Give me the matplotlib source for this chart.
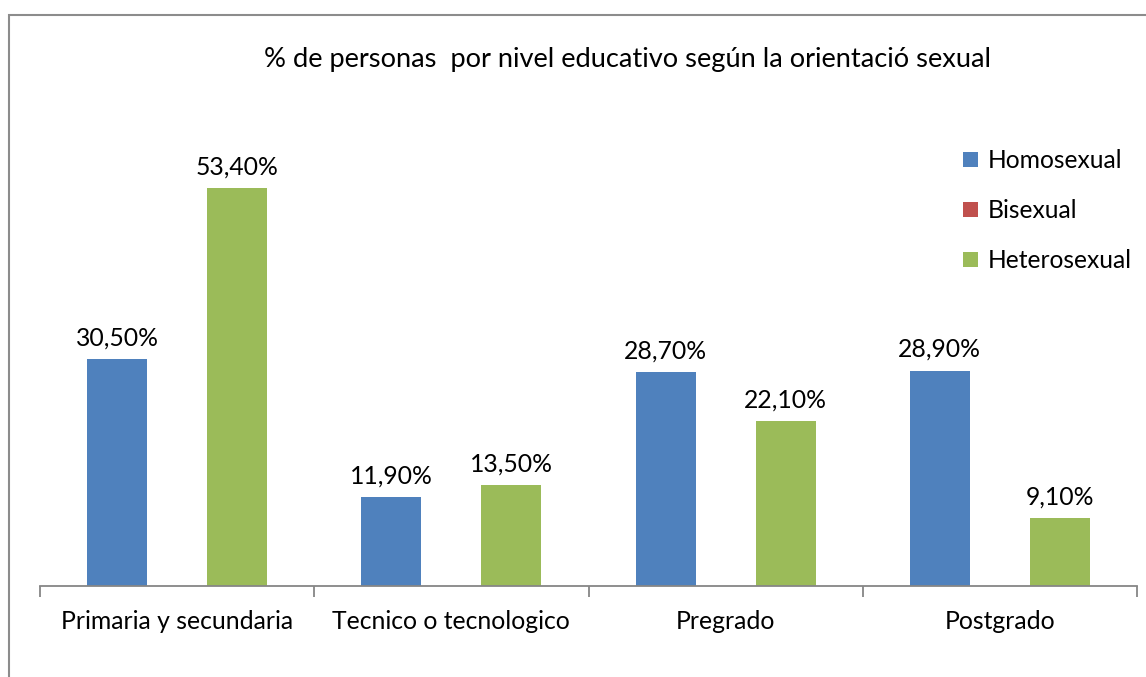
import numpy as np
import matplotlib.pyplot as plt
from matplotlib.patches import Rectangle

categories = ["Primaria y secundaria", "Tecnico o tecnologico", "Pregrado", "Postgrado"]
series = ["Homosexual", "Bisexual", "Heterosexual"]
homosexual = [30.5, 11.9, 28.7, 28.9]
bisexual = [np.nan, np.nan, np.nan, np.nan]
heterosexual = [53.4, 13.5, 22.1, 9.1]
colors = ["#4F81BD", "#C0504D", "#9BBB59"]

plt.rcParams['font.family'] = ['Lato', 'DejaVu Sans']

W, H = 1146, 677
fig = plt.figure(figsize=(W / 100, H / 100), dpi=100)
fig.patches.append(Rectangle((8.5 / W, -0.1), 1.2, (H - 15) / H + 0.1, transform=fig.transFigure,
                             fill=False, edgecolor="#8c8c8c", linewidth=1.5))

ax = fig.add_axes([40 / W, (H - 586) / H, (1137 - 40) / W, (586 - 105) / H])
x = np.arange(len(categories))
w = 0.219
for i, (vals, name) in enumerate(zip([homosexual, bisexual, heterosexual], series)):
    bars = ax.bar(x + (i - 1) * w, vals, w, color=colors[i], label=name)
    for b, v in zip(bars, vals):
        if not np.isnan(v):
            ax.text(b.get_x() + b.get_width() / 2, v + 1.3, f"{v:.2f}%".replace(".", ","),
                    ha="center", va="bottom", fontsize=17.8)

ax.set_xlim(-0.5, len(categories) - 0.5)
ax.set_ylim(0, (586 - 105) / 7.45)
for s in ["top", "right", "left"]:
    ax.spines[s].set_visible(False)
ax.spines["bottom"].set_color("#868686")
ax.spines["bottom"].set_linewidth(1.3)
ax.set_yticks([])
ax.set_xticks(np.arange(len(categories) + 1) - 0.5)
ax.set_xticklabels([])
ax.tick_params(axis="x", direction="out", length=8, color="#868686", width=1.3)
for xi, c in zip(x, categories):
    ax.text(xi, -3.2, c, ha="center", va="top", fontsize=17.8)

fig.text(628 / W, 1 - 60 / H, "% de personas  por nivel educativo según la orientació sexual",
         ha="center", va="center", fontsize=19.6)

ax.legend(loc="upper left", bbox_to_anchor=(963 / W, 1 - 149 / H), bbox_transform=fig.transFigure,
          frameon=False, fontsize=17.7, handlelength=0.6, handleheight=0.6, handletextpad=0.4,
          labelspacing=1.1, borderaxespad=0, borderpad=0)

fig.savefig("out.png", dpi=100)
